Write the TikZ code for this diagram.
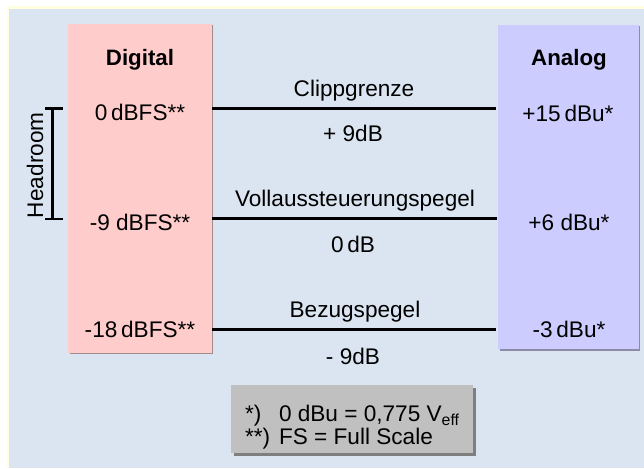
\documentclass[tikz,border=0pt]{standalone}
\usepackage{fontspec}
\setmainfont{Liberation Sans}
\usetikzlibrary{shadows}
\definecolor{bgblue}{HTML}{DBE5F1}
\definecolor{bgyellow}{HTML}{FFFFE0}
\definecolor{pinkbox}{HTML}{FFCCCC}
\definecolor{lilabox}{HTML}{CCCCFF}
\definecolor{pinkshadow}{HTML}{A08C8C}
\definecolor{lilashadow}{HTML}{8C8CA8}
\definecolor{legendgray}{HTML}{C0C0C0}
\definecolor{legendshadow}{HTML}{7F7F7F}
\tikzset{
  lbl/.style={inner sep=0pt, outer sep=0pt, anchor=base, font=\fontsize{22.6}{26}\selectfont},
  boxlbl/.style={lbl, font=\fontsize{22.3}{26}\selectfont\bfseries},
  level/.style={line width=3pt},
  bracket/.style={line width=2.8pt},
  colbox/.style={inner sep=0pt, outer sep=0pt, draw=none},
}
\begin{document}
\begin{tikzpicture}[x=1pt,y=-1pt]
\useasboundingbox (0,0) rectangle (644,468);
% background
\fill[white] (0,0) rectangle (644,468);
\fill[bgyellow] (7.3,5.7) rectangle (644,468);
\fill[bgblue] (8.8,8.8) rectangle (644,468);
% column boxes
\node[colbox, fill=pinkbox, minimum width=143.7pt, minimum height=328.7pt,
  copy shadow={shadow xshift=1.5pt, shadow yshift=-1.5pt, fill=pinkshadow, draw=none}]
  (dig) at (139.85,188.35) {};
\node[colbox, fill=lilabox, minimum width=140.7pt, minimum height=324pt,
  copy shadow={shadow xshift=1.5pt, shadow yshift=-1.5pt, fill=lilashadow, draw=none}]
  (ana) at (568.35,187) {};
% headings
\node[boxlbl] (digt) at (140,66) {Digital};
\node[boxlbl] (anat) at (569,66) {Analog};
% values
\node[lbl] (d1) at (140,121) {0\,dBFS**};
\node[lbl] (d2) at (140,230) {-9 dBFS**};
\node[lbl] (d3) at (140,337) {-18\,dBFS**};
\node[lbl] (a1) at (568,121.5) {+15\,dBu*};
\node[lbl] (a2) at (569,230) {+6 dBu*};
\node[lbl] (a3) at (569,337) {-3\,dBu*};
% level lines
\coordinate (l1a) at (212,108.3);
\coordinate (l1b) at (495.5,108.3);
\coordinate (l2a) at (212,218.3);
\coordinate (l2b) at (497,218.3);
\coordinate (l3a) at (212,329.3);
\coordinate (l3b) at (495.5,329.3);
\draw[level] (l1a) -- (l1b);
\draw[level] (l2a) -- (l2b);
\draw[level] (l3a) -- (l3b);
\node[lbl] (t1) at (354,96) {Clippgrenze};
\node[lbl] (u1) at (353,141.7) {+ 9dB};
\node[lbl] (t2) at (355,206.5) {Vollaussteuerungspegel};
\node[lbl] (u2) at (353,252.5) {0\,dB};
\node[lbl] (t3) at (355,317) {Bezugspegel};
\node[lbl] (u3) at (353,364) {- 9dB};
% headroom bracket
\coordinate (hrt) at (52.7,108.3);
\coordinate (hrb) at (52.7,219);
\coordinate (hrtl) at (45,108.3);
\coordinate (hrtr) at (63,108.3);
\coordinate (hrbl) at (45,219);
\coordinate (hrbr) at (63,219);
\draw[bracket] (hrt) -- (hrb);
\draw[bracket] (hrtl) -- (hrtr);
\draw[bracket] (hrbl) -- (hrbr);
\node[lbl, anchor=base west, rotate=90] (hr) at (43,218) {Headroom};
% legend
\node[colbox, fill=legendgray, minimum width=242pt, minimum height=68pt,
  copy shadow={shadow xshift=3pt, shadow yshift=-3pt, fill=legendshadow, draw=none}]
  (leg) at (352,419) {};
\node[lbl, anchor=base west] (s1) at (245,421) {*)};
\node[lbl, anchor=base west] (s2) at (245,444) {**)};
\node[lbl, anchor=base west] (e1) at (279,421) {0 dBu = 0,775 V\textsubscript{eff}};
\node[lbl, anchor=base west] (e2) at (279,444) {FS = Full Scale};
\end{tikzpicture}
\end{document}
